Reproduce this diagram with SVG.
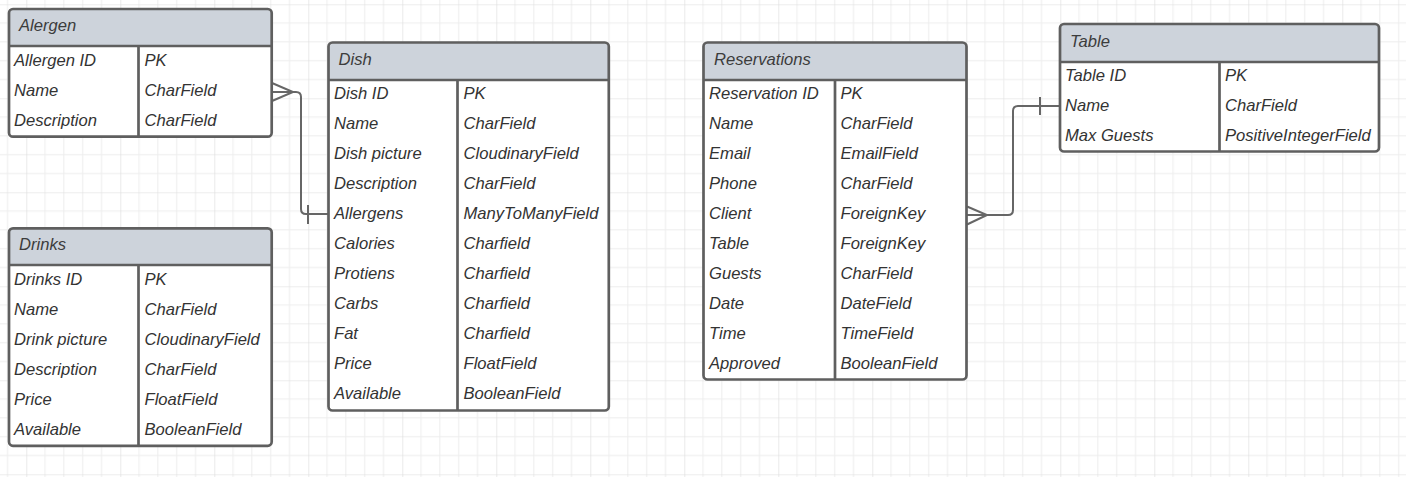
<svg xmlns="http://www.w3.org/2000/svg" width="1406" height="477" viewBox="0 0 1406 477">
<defs>
<pattern id="grid" patternUnits="userSpaceOnUse" x="26.3" y="4.3" width="94" height="94">
<path d="M18.8,0V94M37.6,0V94M56.4,0V94M75.2,0V94M0,18.8H94M0,37.6H94M0,56.4H94M0,75.2H94" stroke="#ededed" stroke-width="1" fill="none"/>
<path d="M0,0V94M0,0H94" stroke="#dcdcdc" stroke-width="1.2" fill="none"/>
</pattern>
<style>
.box{fill:#ffffff;stroke:none}
.outline{fill:none;stroke:#5f5f5f;stroke-width:2.7}
.hdr{fill:#cdd3db;stroke:none}
.sep{stroke:#5f5f5f;stroke-width:2.7;fill:none}
.t{font-family:"Liberation Sans",Arial,sans-serif;font-style:italic;font-size:16.6px;fill:#333333}
.ht{font-family:"Liberation Sans",Arial,sans-serif;font-style:italic;font-size:16.6px;fill:#3c3c3c}
.conn{fill:none;stroke:#666666;stroke-width:2}
</style>
</defs>
<rect x="0" y="0" width="1406" height="477" fill="#ffffff"/>
<rect x="0" y="0" width="1406" height="477" fill="url(#grid)"/>

<g id="connectors">
<path class="conn" d="M272,92 H296 Q301,92 301,97 V209 Q301,214 306,214 H328"/>
<path class="conn" d="M272,83 L293,92 L272,101"/>
<path class="conn" d="M308,205 V224"/>
<path class="conn" d="M967,215 H1008 Q1013,215 1013,210 V111 Q1013,106 1018,106 H1060"/>
<path class="conn" d="M967,206.5 L987,215 L967,224.5"/>
<path class="conn" d="M1040,97 V115"/>
</g>

<g id="alergen">
<rect class="box" x="9" y="9" width="262.7" height="127.7" rx="4"/>
<path class="hdr" d="M9,46 V13 Q9,9 13,9 H267.7 Q271.7,9 271.7,13 V46 Z"/>
<path class="sep" d="M9,46 H271.7 M138.5,46 V136.7"/>
<rect class="outline" x="9" y="9" width="262.7" height="127.7" rx="4"/>
<text class="ht" x="19" y="31">Alergen</text>
<text class="t" x="14" y="65.5">Allergen ID</text><text class="t" x="144.5" y="65.5">PK</text>
<text class="t" x="14" y="95.5">Name</text><text class="t" x="144.5" y="95.5">CharField</text>
<text class="t" x="14" y="125.5">Description</text><text class="t" x="144.5" y="125.5">CharField</text>
</g>

<g id="drinks">
<rect class="box" x="9" y="228.3" width="262.7" height="217.5" rx="4"/>
<path class="hdr" d="M9,265 V232.3 Q9,228.3 13,228.3 H267.7 Q271.7,228.3 271.7,232.3 V265 Z"/>
<path class="sep" d="M9,265 H271.7 M138.5,265 V445.8"/>
<rect class="outline" x="9" y="228.3" width="262.7" height="217.5" rx="4"/>
<text class="ht" x="19" y="250">Drinks</text>
<text class="t" x="14" y="284.5">Drinks ID</text><text class="t" x="144.5" y="284.5">PK</text>
<text class="t" x="14" y="314.5">Name</text><text class="t" x="144.5" y="314.5">CharField</text>
<text class="t" x="14" y="344.5">Drink picture</text><text class="t" x="144.5" y="344.5">CloudinaryField</text>
<text class="t" x="14" y="374.5">Description</text><text class="t" x="144.5" y="374.5">CharField</text>
<text class="t" x="14" y="404.5">Price</text><text class="t" x="144.5" y="404.5">FloatField</text>
<text class="t" x="14" y="434.5">Available</text><text class="t" x="144.5" y="434.5">BooleanField</text>
</g>

<g id="dish">
<rect class="box" x="328.5" y="42.5" width="280.3" height="368" rx="4"/>
<path class="hdr" d="M328.5,80 V46.5 Q328.5,42.5 332.5,42.5 H604.8 Q608.8,42.5 608.8,46.5 V80 Z"/>
<path class="sep" d="M328.5,80 H608.8 M457.5,80 V410.5"/>
<rect class="outline" x="328.5" y="42.5" width="280.3" height="368" rx="4"/>
<text class="ht" x="338.5" y="65">Dish</text>
<text class="t" x="334" y="99">Dish ID</text><text class="t" x="463.5" y="99">PK</text>
<text class="t" x="334" y="129">Name</text><text class="t" x="463.5" y="129">CharField</text>
<text class="t" x="334" y="159">Dish picture</text><text class="t" x="463.5" y="159">CloudinaryField</text>
<text class="t" x="334" y="189">Description</text><text class="t" x="463.5" y="189">CharField</text>
<text class="t" x="334" y="219">Allergens</text><text class="t" x="463.5" y="219">ManyToManyField</text>
<text class="t" x="334" y="249">Calories</text><text class="t" x="463.5" y="249">Charfield</text>
<text class="t" x="334" y="279">Protiens</text><text class="t" x="463.5" y="279">Charfield</text>
<text class="t" x="334" y="309">Carbs</text><text class="t" x="463.5" y="309">Charfield</text>
<text class="t" x="334" y="339">Fat</text><text class="t" x="463.5" y="339">Charfield</text>
<text class="t" x="334" y="369">Price</text><text class="t" x="463.5" y="369">FloatField</text>
<text class="t" x="334" y="399">Available</text><text class="t" x="463.5" y="399">BooleanField</text>
</g>

<g id="reservations">
<rect class="box" x="703.5" y="42.5" width="263" height="337" rx="4"/>
<path class="hdr" d="M703.5,80 V46.5 Q703.5,42.5 707.5,42.5 H962.5 Q966.5,42.5 966.5,46.5 V80 Z"/>
<path class="sep" d="M703.5,80 H966.5 M835,80 V379.5"/>
<rect class="outline" x="703.5" y="42.5" width="263" height="337" rx="4"/>
<text class="ht" x="714" y="65">Reservations</text>
<text class="t" x="709" y="99">Reservation ID</text><text class="t" x="840.5" y="99">PK</text>
<text class="t" x="709" y="129">Name</text><text class="t" x="840.5" y="129">CharField</text>
<text class="t" x="709" y="159">Email</text><text class="t" x="840.5" y="159">EmailField</text>
<text class="t" x="709" y="189">Phone</text><text class="t" x="840.5" y="189">CharField</text>
<text class="t" x="709" y="219">Client</text><text class="t" x="840.5" y="219">ForeignKey</text>
<text class="t" x="709" y="249">Table</text><text class="t" x="840.5" y="249">ForeignKey</text>
<text class="t" x="709" y="279">Guests</text><text class="t" x="840.5" y="279">CharField</text>
<text class="t" x="709" y="309">Date</text><text class="t" x="840.5" y="309">DateField</text>
<text class="t" x="709" y="339">Time</text><text class="t" x="840.5" y="339">TimeField</text>
<text class="t" x="709" y="369">Approved</text><text class="t" x="840.5" y="369">BooleanField</text>
</g>

<g id="table">
<rect class="box" x="1060" y="24" width="319" height="127.5" rx="4"/>
<path class="hdr" d="M1060,62 V28 Q1060,24 1064,24 H1375 Q1379,24 1379,28 V62 Z"/>
<path class="sep" d="M1060,62 H1379 M1219.5,62 V151.5"/>
<rect class="outline" x="1060" y="24" width="319" height="127.5" rx="4"/>
<text class="ht" x="1070" y="46.5">Table</text>
<text class="t" x="1065" y="80.5">Table ID</text><text class="t" x="1225" y="80.5">PK</text>
<text class="t" x="1065" y="110.5">Name</text><text class="t" x="1225" y="110.5">CharField</text>
<text class="t" x="1065" y="140.5">Max Guests</text><text class="t" x="1225" y="140.5">PositiveIntegerField</text>
</g>
</svg>
